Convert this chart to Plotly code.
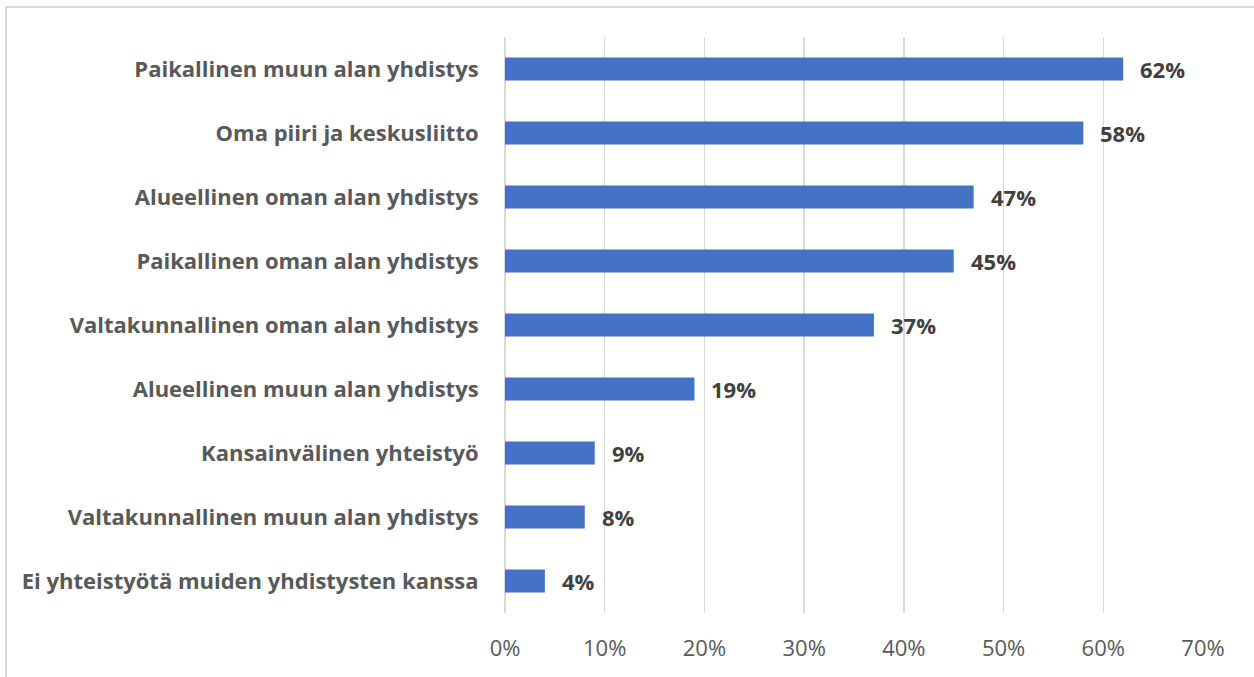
import plotly.graph_objects as go

categories = [
    "Paikallinen muun alan yhdistys",
    "Oma piiri ja keskusliitto",
    "Alueellinen oman alan yhdistys",
    "Paikallinen oman alan yhdistys",
    "Valtakunnallinen oman alan yhdistys",
    "Alueellinen muun alan yhdistys",
    "Kansainvälinen yhteistyö",
    "Valtakunnallinen muun alan yhdistys",
    "Ei yhteistyötä muiden yhdistysten kanssa",
]
values = [62, 58, 47, 45, 37, 19, 9, 8, 4]
x_ticks = [0, 10, 20, 30, 40, 50, 60, 70]
x_tick_labels = [f"{t}%" for t in x_ticks]

W, H = 1254, 677
ML, MR, MT, MB = 505, 51, 37, 64

fig = go.Figure()
fig.add_trace(go.Bar(
    x=values,
    y=categories,
    orientation="h",
    marker=dict(color="#4472C4", line=dict(width=0)),
    hoverinfo="skip",
))

for c, v in zip(categories, values):
    fig.add_annotation(
        x=v, y=c, xref="x", yref="y",
        text=f"<b>{v}%</b>", showarrow=False,
        xanchor="left", yanchor="middle", xshift=15,
        font=dict(family="Open Sans", size=22, color="#404040"),
    )

pw = W - ML - MR
ph = H - MT - MB
def px_to_paper_x(px):
    return (px - ML) / pw
def px_to_paper_y(py):
    return (H - MB - py) / ph

fig.add_shape(
    type="rect", xref="paper", yref="paper",
    x0=px_to_paper_x(6), x1=px_to_paper_x(1256),
    y0=px_to_paper_y(720), y1=px_to_paper_y(7),
    line=dict(color="#d9d9d9", width=2), fillcolor="rgba(0,0,0,0)",
    layer="below",
)

fig.update_layout(
    width=W, height=H,
    margin=dict(l=ML, r=MR, t=MT, b=MB, pad=0),
    paper_bgcolor="white", plot_bgcolor="white",
    bargap=0.64,
    showlegend=False,
    font=dict(family="Open Sans", color="#595959"),
    xaxis=dict(
        range=[0, 70],
        tickvals=x_ticks, ticktext=x_tick_labels,
        showgrid=True, gridcolor="#d9d9d9", gridwidth=1.5,
        zeroline=True, zerolinecolor="#d9d9d9", zerolinewidth=1.5,
        showline=False,
        ticks="outside", ticklen=16, tickcolor="rgba(0,0,0,0)",
        tickfont=dict(family="Open Sans", size=22, color="#595959"),
        fixedrange=True,
    ),
    yaxis=dict(
        categoryorder="array", categoryarray=categories[::-1],
        showgrid=False, showline=False, zeroline=False,
        ticks="outside", ticklen=21, tickcolor="rgba(0,0,0,0)",
        tickfont=dict(family="Open Sans", size=22, color="#595959", weight="bold"),
        fixedrange=True,
    ),
)

fig.write_html(
    "out.html",
    config={"displayModeBar": False, "staticPlot": True},
    post_script="document.body.style.margin='0';document.body.style.overflow='hidden';",
)
